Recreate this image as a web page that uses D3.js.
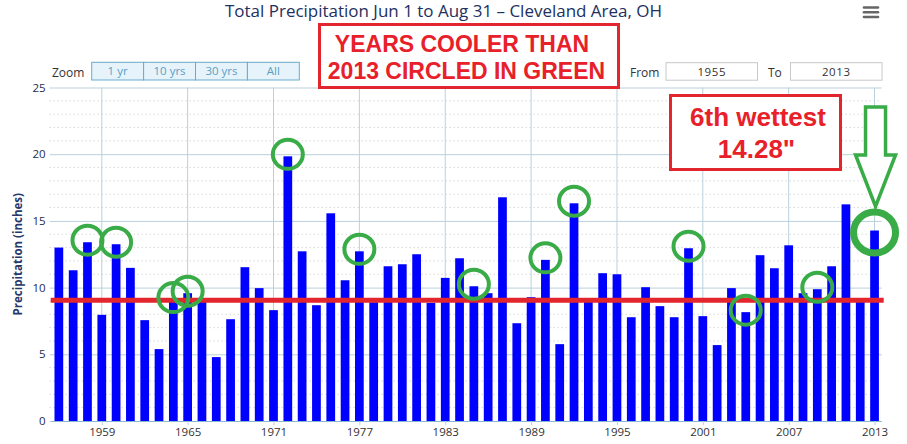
<!DOCTYPE html>
<html>
<head>
<meta charset="utf-8">
<script src="https://cdn.jsdelivr.net/npm/d3@7/dist/d3.min.js"></script>
<style>
  body { margin: 0; background: #fff; }
  svg { display: block; font-family: "Open Sans", sans-serif; }
</style>
</head>
<body>
<div id="chart"></div>
<script>
// summer (Jun 1 - Aug 31) precipitation, inches, 1956 .. 2013
const firstYear = 1956;
const precip = [
  13.0, 11.3, 13.4, 7.96, 13.25, 11.48, 7.56, 5.39, 9.1, 9.58,
  8.95, 4.79, 7.63, 11.53, 9.96, 8.31, 19.84, 12.72, 8.68, 15.57,
  10.55, 12.72, 8.9, 11.6, 11.75, 12.5, 8.85, 10.73, 12.2, 10.1,
  9.58, 16.77, 7.33, 9.28, 12.08, 5.76, 16.32, 8.95, 11.08, 11.0,
  7.78, 10.03, 8.61, 7.78, 12.95, 7.86, 5.69, 9.96, 8.16, 12.43,
  11.45, 13.17, 9.58, 9.88, 11.6, 16.24, 8.95, 14.28
];
const tickYears = [1959, 1965, 1971, 1977, 1983, 1989, 1995, 2001, 2007, 2013];
const yTicks = [0, 5, 10, 15, 20, 25];
const coolerYears = [1958, 1960, 1964, 1965, 1972, 1977, 1985, 1990, 1992, 2000, 2004, 2009];
const highlightYear = 2013;
const refLevel = 9.06;
const zoomButtons = ["1 yr", "10 yrs", "30 yrs", "All"];
const rangeFrom = "1955";
const rangeTo = "2013";

const data = precip.map((v, i) => ({ year: firstYear + i, value: v }));

const width = 907, height = 444;
const margin = { top: 87.5, right: 25.3, bottom: 23, left: 51.7 };

const svg = d3.select("#chart").append("svg")
    .attr("width", width)
    .attr("height", height);

const x = d3.scaleLinear()
    .domain([firstYear - 0.5, highlightYear + 0.5])
    .range([margin.left, width - margin.right]);
const y = d3.scaleLinear()
    .domain([0, 25])
    .range([height - margin.bottom, margin.top]);

const plotW = x.range()[1] - x.range()[0];
const barW = (x(1) - x(0)) * 0.61;

// title + menu icon
svg.append("text")
    .attr("x", 225)
    .attr("y", 16.7)
    .attr("textLength", 437)
    .attr("lengthAdjust", "spacingAndGlyphs")
    .style("font-size", "17px")
    .style("fill", "#22305e")
    .text("Total Precipitation Jun 1 to Aug 31 \u2013 Cleveland Area, OH");

svg.append("g").selectAll("line")
    .data([7.5, 12.3, 17])
    .enter().append("line")
    .attr("x1", 864).attr("x2", 878)
    .attr("y1", d => d).attr("y2", d => d)
    .style("stroke", "#666")
    .style("stroke-width", 2.6)
    .style("stroke-linecap", "round");

// minor grid (dotted, every inch)
const minor = y.ticks(25).filter(t => t % 5 !== 0);
svg.append("g").selectAll("line")
    .data(minor)
    .enter().append("line")
    .attr("x1", margin.left - 2).attr("x2", x.range()[1])
    .attr("y1", d => y(d)).attr("y2", d => y(d))
    .style("stroke", "#c4c4c4")
    .style("stroke-dasharray", "1,3");

// major y grid
const yAxis = svg.append("g")
    .attr("transform", `translate(${margin.left},0)`)
    .call(d3.axisLeft(y).tickValues(yTicks).tickSize(-plotW).tickPadding(6));
yAxis.select(".domain").remove();
yAxis.selectAll(".tick line")
    .attr("x1", -2)
    .style("stroke", "#b9d1dc");
yAxis.selectAll(".tick text")
    .style("font-size", "11.5px")
    .style("font-family", "Open Sans, sans-serif")
    .style("fill", "#262c4e");

// vertical grid at tick years
svg.append("g").selectAll("line")
    .data(tickYears)
    .enter().append("line")
    .attr("x1", d => x(d)).attr("x2", d => x(d))
    .attr("y1", y.range()[1]).attr("y2", y.range()[0])
    .style("stroke", "#b9d1dc");

// y axis title
svg.append("text")
    .attr("transform", `translate(22,${(y.range()[0] + y.range()[1]) / 2}) rotate(-90)`)
    .attr("text-anchor", "middle")
    .style("font-size", "11.5px")
    .style("font-weight", "bold")
    .style("fill", "#27386b")
    .text("Precipitation (inches)");

// bars
svg.append("g").selectAll("rect")
    .data(data)
    .enter().append("rect")
    .attr("x", d => x(d.year) - barW / 2)
    .attr("y", d => y(d.value))
    .attr("width", barW)
    .attr("height", d => y(0) - y(d.value))
    .style("fill", "#0000ff");

// x axis
const xAxis = svg.append("g")
    .attr("transform", `translate(0,${y(0)})`)
    .call(d3.axisBottom(x).tickValues(tickYears).tickFormat(d3.format("d")).tickSize(4).tickPadding(3));
xAxis.select(".domain")
    .attr("d", `M${x.range()[0]},0.5H${x.range()[1]}`)
    .style("stroke", "#86b6d4");
xAxis.selectAll(".tick line").style("stroke", "#b9d1dc");
xAxis.selectAll(".tick text")
    .style("font-size", "11.5px")
    .style("font-family", "Open Sans, sans-serif")
    .style("fill", "#333");

// red reference line
svg.append("line")
    .attr("x1", margin.left - 1).attr("x2", x.range()[1] + 2)
    .attr("y1", y(refLevel)).attr("y2", y(refLevel))
    .style("stroke", "#e3262e")
    .style("stroke-width", 5);

// green circles on cooler years
const valueOf = yr => data.find(d => d.year === yr).value;
svg.append("g").selectAll("ellipse")
    .data(coolerYears)
    .enter().append("ellipse")
    .attr("cx", d => x(d))
    .attr("cy", d => y(valueOf(d)) - 2)
    .attr("rx", 15)
    .attr("ry", 14.5)
    .style("fill", "none")
    .style("stroke", "#39ab47")
    .style("stroke-width", 4);

svg.append("ellipse")
    .attr("cx", x(highlightYear))
    .attr("cy", y(valueOf(highlightYear)) + 2)
    .attr("rx", 21)
    .attr("ry", 20.5)
    .style("fill", "none")
    .style("stroke", "#39ab47")
    .style("stroke-width", 7);

// arrow pointing at 2013
const ax = x(highlightYear) + 1;
const tipY = y(valueOf(highlightYear)) - 24;
svg.append("path")
    .attr("d", `M${ax - 10},107 H${ax + 10} V155 H${ax + 20} L${ax},${tipY} L${ax - 20},155 H${ax - 10} Z`)
    .style("fill", "#fff")
    .style("stroke", "#39ab47")
    .style("stroke-width", 3.5)
    .style("stroke-linejoin", "miter");

// range selector
svg.append("text")
    .attr("x", 52).attr("y", 77)
    .style("font-size", "12px")
    .style("fill", "#333")
    .text("Zoom");

const btnW = 51.9;
const btn = svg.append("g").selectAll("g")
    .data(zoomButtons)
    .enter().append("g")
    .attr("transform", (d, i) => `translate(${91.7 + i * btnW},62.3)`);
btn.append("rect")
    .attr("width", btnW).attr("height", 17.7)
    .style("fill", "#e6f3fa")
    .style("stroke", "#6aabca")
    .style("stroke-width", 1);
btn.append("text")
    .attr("x", btnW / 2).attr("y", 13)
    .attr("text-anchor", "middle")
    .style("font-size", "11.5px")
    .style("fill", "#5a9fc4")
    .text(d => d);

svg.append("text")
    .attr("x", 630).attr("y", 77)
    .style("font-size", "12px").style("fill", "#333")
    .text("From");
svg.append("text")
    .attr("x", 768).attr("y", 77)
    .style("font-size", "12px").style("fill", "#333")
    .text("To");

const inputs = svg.append("g").selectAll("g")
    .data([{ x: 666, v: rangeFrom }, { x: 790.5, v: rangeTo }])
    .enter().append("g")
    .attr("transform", d => `translate(${d.x},62.7)`);
inputs.append("rect")
    .attr("width", 91.5).attr("height", 17.5)
    .style("fill", "#fff")
    .style("stroke", "#c8c8c8");
inputs.append("text")
    .attr("x", 45.75).attr("y", 13.3)
    .attr("text-anchor", "middle")
    .style("font-size", "11.5px")
    .style("letter-spacing", "0.6px")
    .style("fill", "#333")
    .text(d => d.v);

// annotation boxes
const note1 = svg.append("g");
note1.append("rect")
    .attr("x", 319.5).attr("y", 24.5)
    .attr("width", 299).attr("height", 63)
    .style("fill", "#fff")
    .style("stroke", "#e3262e")
    .style("stroke-width", 3);
note1.selectAll("text")
    .data(["YEARS COOLER THAN", "2013 CIRCLED IN GREEN"])
    .enter().append("text")
    .attr("x", (d, i) => i === 0 ? 462 : 466.5)
    .attr("y", (d, i) => i === 0 ? 51.7 : 79.3)
    .attr("text-anchor", "middle")
    .style("font-family", "Liberation Sans, Arial, sans-serif")
    .style("font-weight", "bold")
    .style("font-size", "23px")
    .style("fill", "#e8202a")
    .text(d => d);

const note2 = svg.append("g");
note2.append("rect")
    .attr("x", 670.5).attr("y", 95.5)
    .attr("width", 170).attr("height", 74)
    .style("fill", "#fff")
    .style("stroke", "#e3262e")
    .style("stroke-width", 3);
note2.selectAll("text")
    .data(["6th wettest", "14.28\""])
    .enter().append("text")
    .attr("x", (d, i) => i === 0 ? 758 : 756.5)
    .attr("y", (d, i) => i === 0 ? 125.7 : 158.3)
    .attr("text-anchor", "middle")
    .style("font-family", "Liberation Sans, Arial, sans-serif")
    .style("font-weight", "bold")
    .style("font-size", "26px")
    .style("fill", "#e8202a")
    .text(d => d);
</script>
</body>
</html>
